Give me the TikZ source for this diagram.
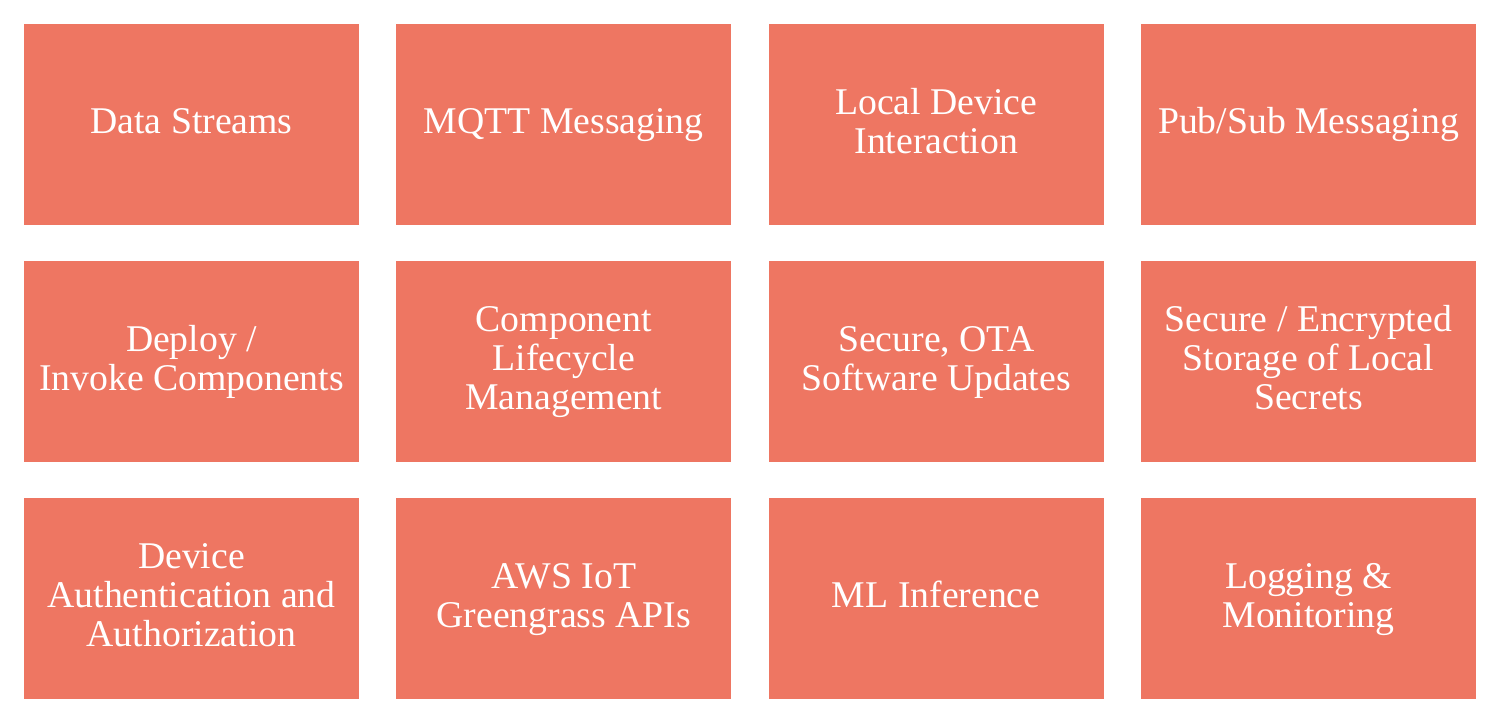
\documentclass[tikz,border=0pt]{standalone}
\usepackage{fontspec}
\setmainfont{Liberation Serif}
\definecolor{boxfill}{RGB}{238,118,98}
\begin{document}
\begin{tikzpicture}[x=0.75pt,y=-0.75pt,
  cell/.style={fill=boxfill,draw=none,minimum width=251.25pt,minimum height=150.75pt,
    inner sep=0pt},
  lbl/.style={text=white,align=center,inner sep=0pt,
    font=\fontsize{28.3}{29.3}\selectfont,yshift=-1.2pt}]
\useasboundingbox[fill=white] (0,0) rectangle (1488,709);
\node[cell] (a1) at (191.5,124.5) {};
\node[cell] (a2) at (563.8,124.5) {};
\node[cell] (a3) at (936.2,124.5) {};
\node[cell] (a4) at (1308.5,124.5) {};
\node[cell] (b1) at (191.5,361.5) {};
\node[cell] (b2) at (563.8,361.5) {};
\node[cell] (b3) at (936.2,361.5) {};
\node[cell] (b4) at (1308.5,361.5) {};
\node[cell] (c1) at (191.5,598.5) {};
\node[cell] (c2) at (563.8,598.5) {};
\node[cell] (c3) at (936.2,598.5) {};
\node[cell] (c4) at (1308.5,598.5) {};
\node[lbl] (ta1) at (a1) {\strut Data Streams};
\node[lbl] (ta2) at (a2) {\strut MQTT Messaging};
\node[lbl] (ta3) at (a3) {\strut Local Device\\\strut Interaction};
\node[lbl] (ta4) at (a4) {\strut Pub/Sub Messaging};
\node[lbl] (tb1) at (b1) {\strut Deploy /\\\strut Invoke Components};
\node[lbl] (tb2) at (b2) {\strut Component\\\strut Lifecycle\\\strut Management};
\node[lbl] (tb3) at (b3) {\strut Secure, OTA\\\strut Software Updates};
\node[lbl] (tb4) at (b4) {\strut Secure / Encrypted\\\strut Storage of Local\\\strut Secrets};
\node[lbl] (tc1) at (c1) {\strut Device\\\strut Authentication and\\\strut Authorization};
\node[lbl] (tc2) at (c2) {\strut AWS IoT\\\strut Greengrass APIs};
\node[lbl] (tc3) at (c3) {\strut ML Inference};
\node[lbl] (tc4) at (c4) {\strut Logging \&\\\strut Monitoring};
\end{tikzpicture}
\end{document}
